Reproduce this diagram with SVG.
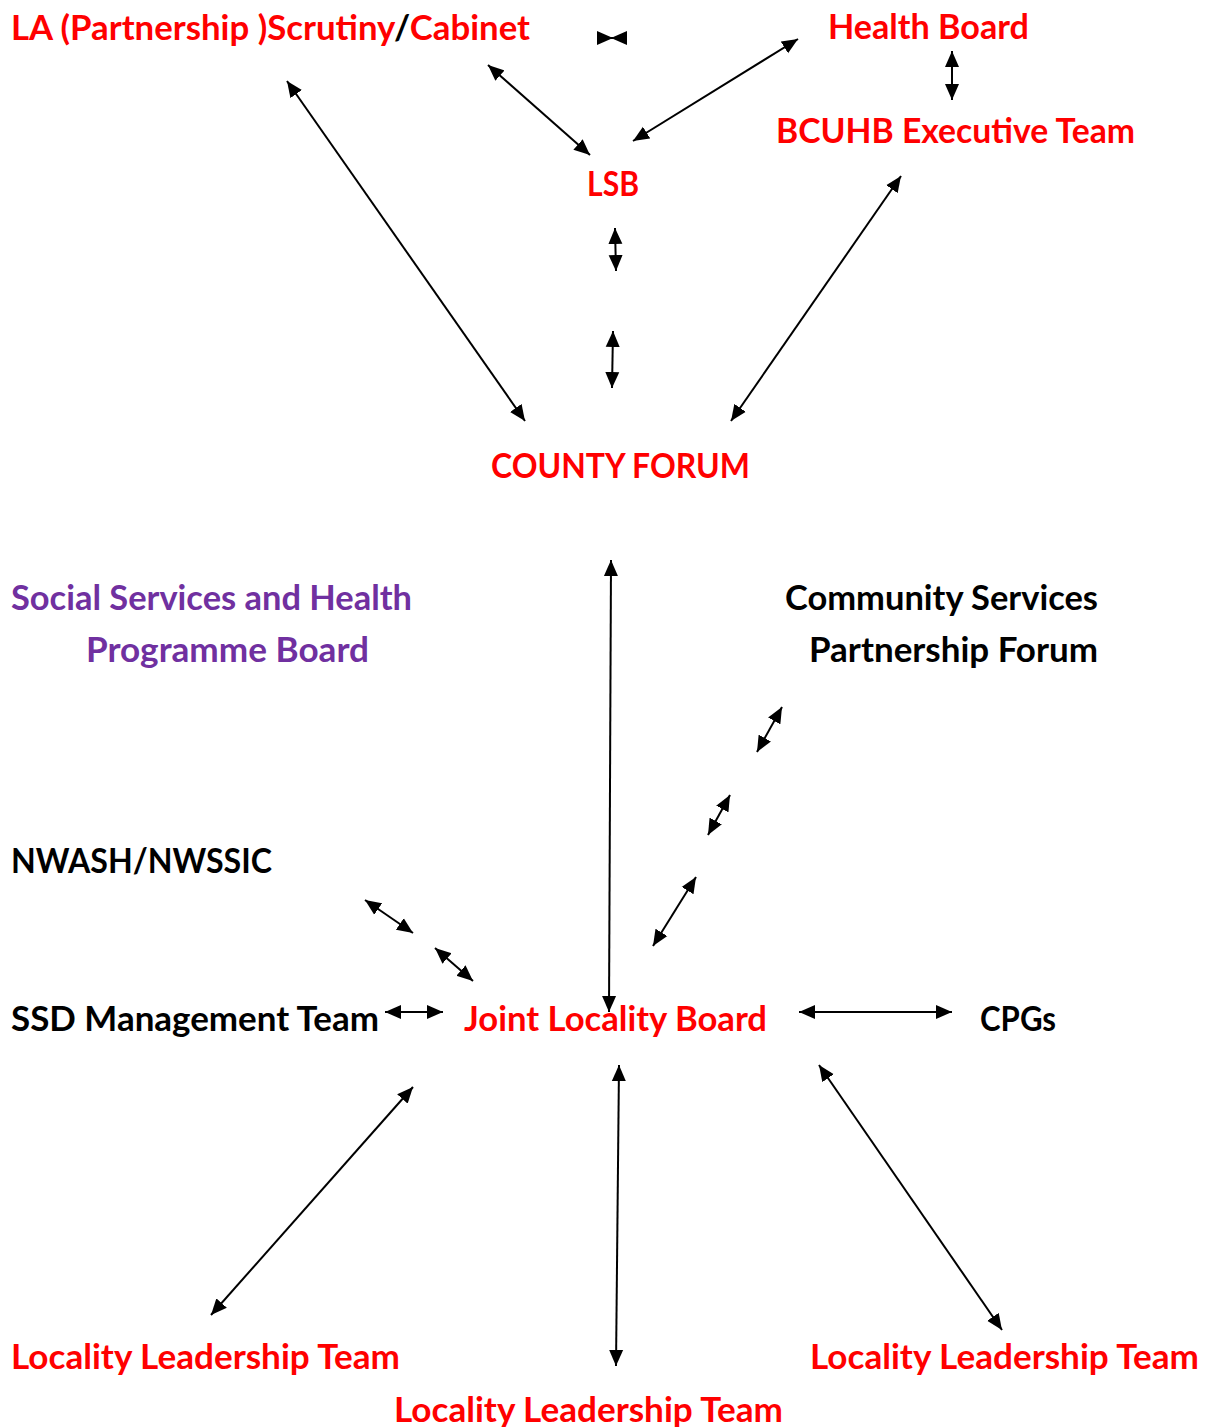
<svg xmlns="http://www.w3.org/2000/svg" width="1210" height="1427" viewBox="0 0 1210 1427">
<style>
text{font-family:Lato,"Open Sans","Liberation Sans",sans-serif;font-weight:bold;font-size:34px}
.r{fill:#FF0000}.k{fill:#000000}.p{fill:#7030A0}
.c{stroke:#000;stroke-width:2;fill:none;marker-start:url(#ah);marker-end:url(#ah)}
</style>
<defs>
<marker id="ah" markerUnits="userSpaceOnUse" markerWidth="17" markerHeight="15" refX="16" refY="7" orient="auto-start-reverse" viewBox="0 0 17 14">
<path d="M0,0 L16,7 L0,14 z" fill="#000"/>
</marker>
</defs>
<rect width="1210" height="1427" fill="#fff"/>
<g id="n-la"><text x="11" y="40" textLength="519" lengthAdjust="spacingAndGlyphs" class="r">LA (Partnership )Scrutiny<tspan class="k">/</tspan>Cabinet</text></g>
<g id="n-hb"><text x="828" y="39" textLength="201" lengthAdjust="spacingAndGlyphs" class="r">Health Board</text></g>
<g id="n-bcuhb"><text x="776" y="143" textLength="359" lengthAdjust="spacingAndGlyphs" class="r">BCUHB Executive Team</text></g>
<g id="n-lsb"><text x="587" y="196" textLength="52" lengthAdjust="spacingAndGlyphs" class="r">LSB</text></g>
<g id="n-cf"><text x="491" y="478" textLength="259" lengthAdjust="spacingAndGlyphs" class="r">COUNTY FORUM</text></g>
<g id="n-ssh"><text x="11" y="610" textLength="401" lengthAdjust="spacingAndGlyphs" class="p">Social Services and Health</text><text x="86" y="662" textLength="283" lengthAdjust="spacingAndGlyphs" class="p">Programme Board</text></g>
<g id="n-csp"><text x="785" y="610" textLength="313" lengthAdjust="spacingAndGlyphs" class="k">Community Services</text><text x="809" y="662" textLength="289" lengthAdjust="spacingAndGlyphs" class="k">Partnership Forum</text></g>
<g id="n-nwash"><text x="11" y="873" textLength="261" lengthAdjust="spacingAndGlyphs" class="k">NWASH/NWSSIC</text></g>
<g id="n-ssd"><text x="11" y="1031" textLength="368" lengthAdjust="spacingAndGlyphs" class="k">SSD Management Team</text></g>
<g id="n-jlb"><text x="464" y="1031" textLength="303" lengthAdjust="spacingAndGlyphs" class="r">Joint Locality Board</text></g>
<g id="n-cpg"><text x="980" y="1031" textLength="76" lengthAdjust="spacingAndGlyphs" class="k">CPGs</text></g>
<g id="n-llt1"><text x="11" y="1369" textLength="389" lengthAdjust="spacingAndGlyphs" class="r">Locality Leadership Team</text></g>
<g id="n-llt2"><text x="810" y="1369" textLength="389" lengthAdjust="spacingAndGlyphs" class="r">Locality Leadership Team</text></g>
<g id="n-llt3"><text x="394" y="1422" textLength="389" lengthAdjust="spacingAndGlyphs" class="r">Locality Leadership Team</text></g>
<g id="connectors">
<path class="c" d="M611,38 L613,38"/>
<path class="c" d="M488,65 L590,155"/>
<path class="c" d="M633,141 L798,39"/>
<path class="c" d="M952,51 L952,100"/>
<path class="c" d="M287,81 L525,421"/>
<path class="c" d="M901,176 L731,421"/>
<path class="c" d="M615,228 L616,271"/>
<path class="c" d="M613,331 L612,388"/>
<path class="c" d="M611,560 L609,1012"/>
<path class="c" d="M782,707 L757,752"/>
<path class="c" d="M730,795 L708,835"/>
<path class="c" d="M696,877 L653,946"/>
<path class="c" d="M365,900 L413,933"/>
<path class="c" d="M435,948 L473,981"/>
<path class="c" d="M385,1012 L443,1012"/>
<path class="c" d="M799,1012 L952,1012"/>
<path class="c" d="M413,1087 L211,1315"/>
<path class="c" d="M619,1065 L616,1366"/>
<path class="c" d="M819,1065 L1002,1330"/>
</g>
</svg>
